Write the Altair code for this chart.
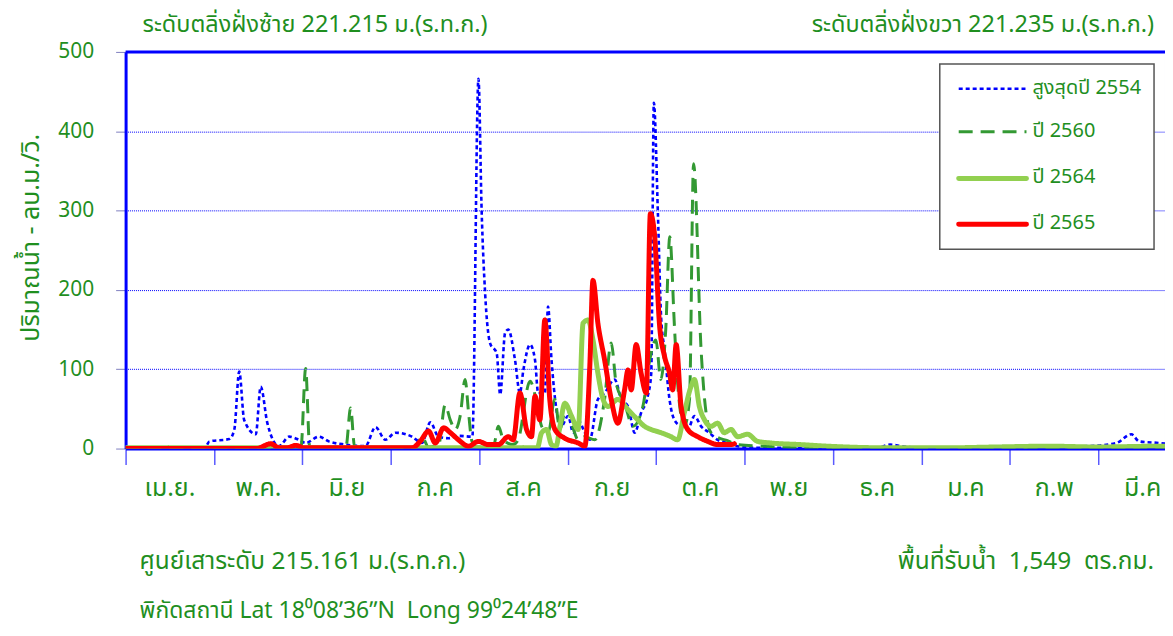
import altair as alt
import pandas as pd

GREEN_TXT = "#1F8F1F"
BLUE = "#0000FF"
FONT = "Noto Sans Thai, Leelawadee UI, Tahoma, Noto Sans, DejaVu Sans, sans-serif"

# ---- x axis: months (uniform month width, in days from 1 April) ----
months = ["เม.ย.", "พ.ค.", "มิ.ย", "ก.ค", "ส.ค", "ก.ย", "ต.ค", "พ.ย", "ธ.ค", "ม.ค", "ก.พ", "มี.ค"]
month_starts = [0, 30.5, 61, 91.5, 122, 152.5, 183, 213.5, 244, 274.5, 305, 335.5]
y_ticks = [0, 100, 200, 300, 400, 500]

# ---- series: สูงสุดปี 2554 ----
days_2554 = [0, 27.2, 28.9, 35.8, 37.5, 39.2, 40.9, 44.9, 46.6, 48.9, 52.9, 56.4, 59.8, 62.1, 66.7,
             70.1, 75.9, 82.7, 86.2, 89.6, 93.1, 98.8, 102.2, 105.1, 107.9, 111.4, 114.8, 119.6,
             121.7, 122.8, 124.0, 125.7, 128.0, 129.2, 130.9, 132.0, 134.3, 136.0, 137.2, 139.5,
             141.2, 142.3, 144.6, 145.7, 146.9, 148.6, 150.3, 152.6, 154.4, 156.1, 158.4, 160.1,
             162.9, 165.2, 168.7, 171.0, 173.3, 175.6, 177.8, 180.1, 181.3, 182.2, 183.6, 184.7,
             185.9, 187.6, 189.3, 191.6, 193.9, 196.2, 198.5, 201.3, 204.2, 207.6, 211.1, 217.9,
             259.2, 263.7, 267.8, 272.9, 300.4, 331.4, 341.7, 346.9, 349.6, 356.5, 359.5]
flow_2554 = [0, 0, 9, 12, 24, 97, 36, 18, 78, 32, 3, 15, 11, 7, 15,
             9, 5, 3, 27, 11, 20, 15, 7, 33, 15, 13, 16, 15,
             466, 300, 196, 133, 120, 68, 146, 150, 112, 70, 99, 131,
             112, 70, 70, 179, 112, 49, 28, 41, 20, 36, 20, 11,
             62, 70, 87, 62, 53, 20, 45, 66, 95, 436, 296, 166,
             124, 62, 36, 28, 24, 41, 28, 20, 11, 7, 3, 1,
             1, 5, 3, 1, 2, 3, 7, 18, 9, 7, 6]

# ---- series: ปี 2560 ----
days_2560 = [0, 60.5, 62.1, 63.5, 76.0, 77.6, 79.0, 100.0, 102.2, 104.5, 108.0, 110.2, 112.0, 113.7,
             115.4, 117.1, 118.3, 119.4, 121.0, 126.8, 128.6, 130.3, 133.7, 135.4, 139.5, 141.7,
             143.5, 145.8, 148.0, 149.8, 152.0, 154.4, 156.1, 158.4, 161.8, 165.2, 167.5, 169.2,
             172.1, 175.0, 178.4, 180.8, 182.9, 184.6, 186.3, 187.7, 189.3, 190.4, 192.7, 194.5,
             195.9, 198.5, 199.7, 201.9, 204.2, 207.6, 211.1, 220.4, 231.7, 248.9, 359.5]
flow_2560 = [0, 2, 101, 2, 2, 51, 2, 1, 15, 2, 5, 55, 36, 24,
             41, 87, 45, 10, 2, 2, 28, 11, 5, 11, 85, 60,
             28, 20, 62, 24, 53, 25, 11, 15, 11, 62, 133, 82,
             57, 28, 53, 112, 137, 87, 150, 267, 154, 82, 28, 62,
             359, 124, 62, 20, 14, 10, 5, 3, 1, 0, 0]

# ---- series: ปี 2564 ----
days_2564 = [0, 142.0, 143.5, 145.2, 146.9, 148.5, 149.8, 151.5, 153.8, 156.1, 157.8, 159.5, 161.2,
             162.9, 164.7, 166.4, 169.8, 173.3, 176.7, 179.0, 181.3, 184.7, 188.1, 190.4, 192.7,
             195.0, 196.2, 197.9, 199.7, 201.9, 204.2, 206.5, 208.8, 211.1, 214.5, 218.0, 222.5,
             232.7, 242.0, 261.6, 284.3, 300.4, 318.7, 334.8, 357.9, 359.5]
flow_2564 = [1, 1, 20, 24, 5, 3, 28, 57, 41, 24, 158, 162, 137,
             95, 62, 53, 62, 49, 36, 28, 24, 20, 15, 11, 45,
             78, 87, 53, 36, 28, 32, 20, 24, 15, 18, 9, 7,
             5, 3, 1, 1, 2, 3, 2, 3, 3]

# ---- series: ปี 2565 ----
days_2565 = [0, 45.0, 50.1, 52.9, 55.7, 58.7, 61.5, 98.8, 101.6, 104.5, 106.8, 109.7, 112.0, 114.8,
             118.3, 121.7, 125.1, 128.6, 132.0, 133.7, 136.0, 138.3, 140.0, 141.2, 142.9, 144.6,
             146.3, 148.1, 151.5, 156.1, 158.4, 160.1, 161.2, 162.9, 165.2, 167.5, 169.8, 172.1,
             173.3, 174.4, 176.1, 177.8, 179.6, 181.0, 182.4, 184.2, 185.9, 187.6, 188.7, 189.9,
             191.6, 193.9, 197.3, 200.8, 204.2, 208.8, 210.0]
flow_2565 = [0, 0, 6, 1, 1, 4, 1, 1, 9, 22, 7, 26, 20, 11,
             3, 9, 5, 5, 15, 11, 70, 24, 15, 66, 36, 162,
             62, 24, 13, 7, 3, 103, 212, 158, 112, 62, 32, 74,
             99, 74, 131, 95, 70, 296, 271, 154, 116, 95, 74, 131,
             53, 24, 15, 9, 5, 5, 6]

series_names = ["สูงสุดปี 2554", "ปี 2560", "ปี 2564", "ปี 2565"]
series_colors = [BLUE, "#339933", "#92D050", "#FF0000"]
series_widths = [2.6, 3, 5, 5]
series_dash = [[4, 3], [14, 8], [1, 0], [1, 0]]

W, H = 1043, 398
X_MAX = 358.5

x_scale = alt.Scale(domain=[0, X_MAX], nice=False, zero=False)
y_scale = alt.Scale(domain=[0, 500], nice=False)

label_expr = "[" + ",".join(f"'{m}'" for m in months) + "][round(datum.value / 30.5)]"

x_axis = alt.Axis(values=month_starts, labelExpr=label_expr, labelOffset=44, labelFlush=False,
                  labelOverlap=False, labelPadding=11, labelFontSize=25, labelColor=GREEN_TXT,
                  labelFont=FONT, tickSize=16, tickColor="#5A5AFF", tickWidth=1.5,
                  domainColor=BLUE, domainWidth=3, grid=False, title=None)
y_axis = alt.Axis(values=y_ticks, labelFontSize=21, labelColor=GREEN_TXT, labelFont=FONT,
                  labelPadding=22, tickSize=10, tickColor="#8080C0", tickWidth=1,
                  domainColor=BLUE, domainWidth=3, grid=True, gridColor=BLUE, gridDash=[1, 1],
                  gridWidth=1, title="ปริมาณน้ำ - ลบ.ม./วิ.", titleFontSize=25, titleY=186,
                  titleColor=GREEN_TXT, titleFont=FONT, titleFontWeight="normal", titlePadding=14)

X = lambda: alt.X("day:Q", scale=x_scale, axis=x_axis)
Y = lambda: alt.Y("flow:Q", scale=y_scale, axis=y_axis)

tables = [(days_2554, flow_2554), (days_2560, flow_2560), (days_2564, flow_2564), (days_2565, flow_2565)]

layers = []
for (d, v), name, col, wd, dash in zip(tables, series_names, series_colors, series_widths, series_dash):
    df = pd.DataFrame({"day": d, "flow": v, "series": name})
    ln = alt.Chart(df).mark_line(color=col, strokeWidth=wd, strokeDash=dash, clip=True,
                                 interpolate="monotone", strokeCap="round" if wd >= 4 else "butt",
                                 strokeJoin="round").encode(x=X(), y=Y())
    layers.append(ln)

# top thick border line at 500
top_line = alt.Chart(pd.DataFrame({"flow": [500]})).mark_rule(color=BLUE, strokeWidth=3).encode(y=Y())
layers.append(top_line)

# ---- legend (drawn box) ----
LX0, LX1, LY0, LY1 = 817, 1032, 12, 198
legend_box = alt.Chart(pd.DataFrame({"a": [0]})).mark_rect(
    fill="white", stroke="#555555", strokeWidth=1.5).encode(
    x=alt.value(LX0), x2=alt.value(LX1), y=alt.value(LY0), y2=alt.value(LY1))
layers.append(legend_box)
row_y = [37, 80, 127, 173]
for i, name in enumerate(series_names):
    sample = alt.Chart(pd.DataFrame({"s": [name]})).mark_rule(
        color=series_colors[i], strokeWidth=series_widths[i] if i < 2 else 5,
        strokeDash=series_dash[i], strokeCap="round" if i >= 2 else "butt").encode(
        x=alt.value(LX0 + 19), x2=alt.value(LX0 + 87), y=alt.value(row_y[i]))
    label = alt.Chart(pd.DataFrame({"s": [name]})).mark_text(
        align="left", baseline="middle", fontSize=20, color=GREEN_TXT, font=FONT).encode(
        text="s:N", x=alt.value(LX0 + 93), y=alt.value(row_y[i] - 1))
    layers += [sample, label]

# ---- annotations ----
NB = "\u00a0"
def note(txt, x, y, align="left", size=24.5):
    return alt.Chart(pd.DataFrame({"t": [txt]})).mark_text(
        align=align, baseline="middle", fontSize=size, color=GREEN_TXT, font=FONT).encode(
        text="t:N", x=alt.value(x), y=alt.value(y))

layers.append(note("ระดับตลิ่งฝั่งซ้าย 221.215 ม.(ร.ท.ก.)", 17, -27, size=23.5))
layers.append(note("ระดับตลิ่งฝั่งขวา 221.235 ม.(ร.ท.ก.)", 1032, -27, align="right", size=23.5))
layers.append(note("ศูนย์เสาระดับ 215.161 ม.(ร.ท.ก.)", 14, 512))
layers.append(note(f"พื้นที่รับน้ำ{NB} 1,549{NB} ตร.กม.", 1032, 512, align="right"))
layers.append(note(f"พิกัดสถานี Lat 18⁰08ʹ36ʺN{NB} Long 99⁰24ʹ48ʺE", 14, 561, size=23))

chart = alt.layer(*layers).properties(
    width=W, height=H,
    autosize=alt.AutoSizeParams(type="none"),
    padding={"left": 118, "top": 43, "right": 0, "bottom": 179},
    background="white",
).configure_view(stroke="#A0A0E0", strokeWidth=1)

chart.save("out.html", embed_options={"renderer": "svg", "actions": False})
